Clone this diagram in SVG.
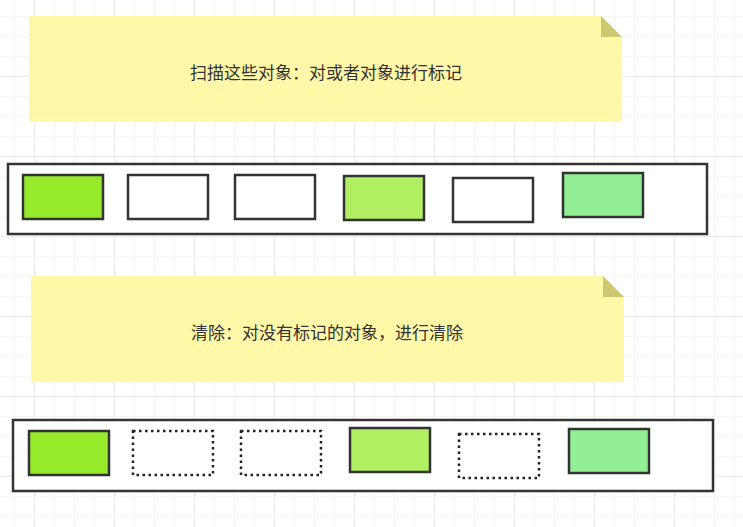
<svg xmlns="http://www.w3.org/2000/svg" width="743" height="527" viewBox="0 0 743 527">
  <defs>
    <pattern id="gridSmall" x="14" y="16" width="20" height="20" patternUnits="userSpaceOnUse">
      <path d="M0,0 H20 M0,0 V20" fill="none" stroke="#ececec" stroke-width="1"/>
    </pattern>
    <pattern id="gridBig" x="34" y="76" width="80" height="80" patternUnits="userSpaceOnUse">
      <path d="M0,0 H80 M0,0 V80" fill="none" stroke="#e1e1e1" stroke-width="1"/>
    </pattern>
  </defs>
  <style>
    .note { fill: #fff8a8; }
    .fold { fill: #cfc872; }
    .label { font-family: "Noto Sans CJK SC", "Noto Sans", sans-serif; font-size: 17px; fill: #333333; text-anchor: middle; dominant-baseline: central; }
    .container { fill: #ffffff; stroke: #333333; stroke-width: 2.5; }
    .obj { stroke: #333333; stroke-width: 2.5; }
    .g1 { fill: #97e92c; }
    .g2 { fill: #b0f062; }
    .g3 { fill: #92ef95; }
    .w { fill: #ffffff; }
    .freed { fill: #ffffff; stroke: #222222; stroke-width: 2.5; stroke-dasharray: 2.5 3.5; }
  </style>

  <rect width="743" height="527" fill="#ffffff"/>
  <rect width="743" height="527" fill="url(#gridSmall)"/>
  <rect width="743" height="527" fill="url(#gridBig)"/>

  <g id="connectors"/>

  <g id="note-scan">
    <path class="note" d="M29,16 H601 L622,37 V122 H29 Z"/>
    <path class="fold" d="M601,16 V37 H622 Z"/>
    <text class="label" x="326" y="71">扫描这些对象：对或者对象进行标记</text>
  </g>

  <g id="heap-mark">
    <rect class="container" x="8" y="164" width="699" height="70"/>
  </g>
  <g id="mark-obj-1"><rect class="obj g1" x="23" y="175" width="80" height="44"/></g>
  <g id="mark-obj-2"><rect class="obj w" x="128" y="175" width="80" height="44"/></g>
  <g id="mark-obj-3"><rect class="obj w" x="235" y="175" width="80" height="44"/></g>
  <g id="mark-obj-4"><rect class="obj g2" x="344" y="176" width="80" height="44"/></g>
  <g id="mark-obj-5"><rect class="obj w" x="453" y="178" width="80" height="44"/></g>
  <g id="mark-obj-6"><rect class="obj g3" x="563" y="173" width="80" height="44"/></g>

  <g id="note-sweep">
    <path class="note" d="M31,276 H603 L624,297 V382 H31 Z"/>
    <path class="fold" d="M603,276 V297 H624 Z"/>
    <text class="label" x="327" y="331">清除：对没有标记的对象，进行清除</text>
  </g>

  <g id="heap-sweep">
    <rect class="container" x="13" y="420" width="700" height="71"/>
  </g>
  <g id="sweep-obj-1"><rect class="obj g1" x="29" y="431" width="80" height="44"/></g>
  <g id="sweep-obj-2"><rect class="freed" x="133" y="431" width="80" height="44"/></g>
  <g id="sweep-obj-3"><rect class="freed" x="241" y="431" width="80" height="44"/></g>
  <g id="sweep-obj-4"><rect class="obj g2" x="350" y="428" width="80" height="44"/></g>
  <g id="sweep-obj-5"><rect class="freed" x="459" y="434" width="80" height="44"/></g>
  <g id="sweep-obj-6"><rect class="obj g3" x="569" y="429" width="80" height="44"/></g>
</svg>
